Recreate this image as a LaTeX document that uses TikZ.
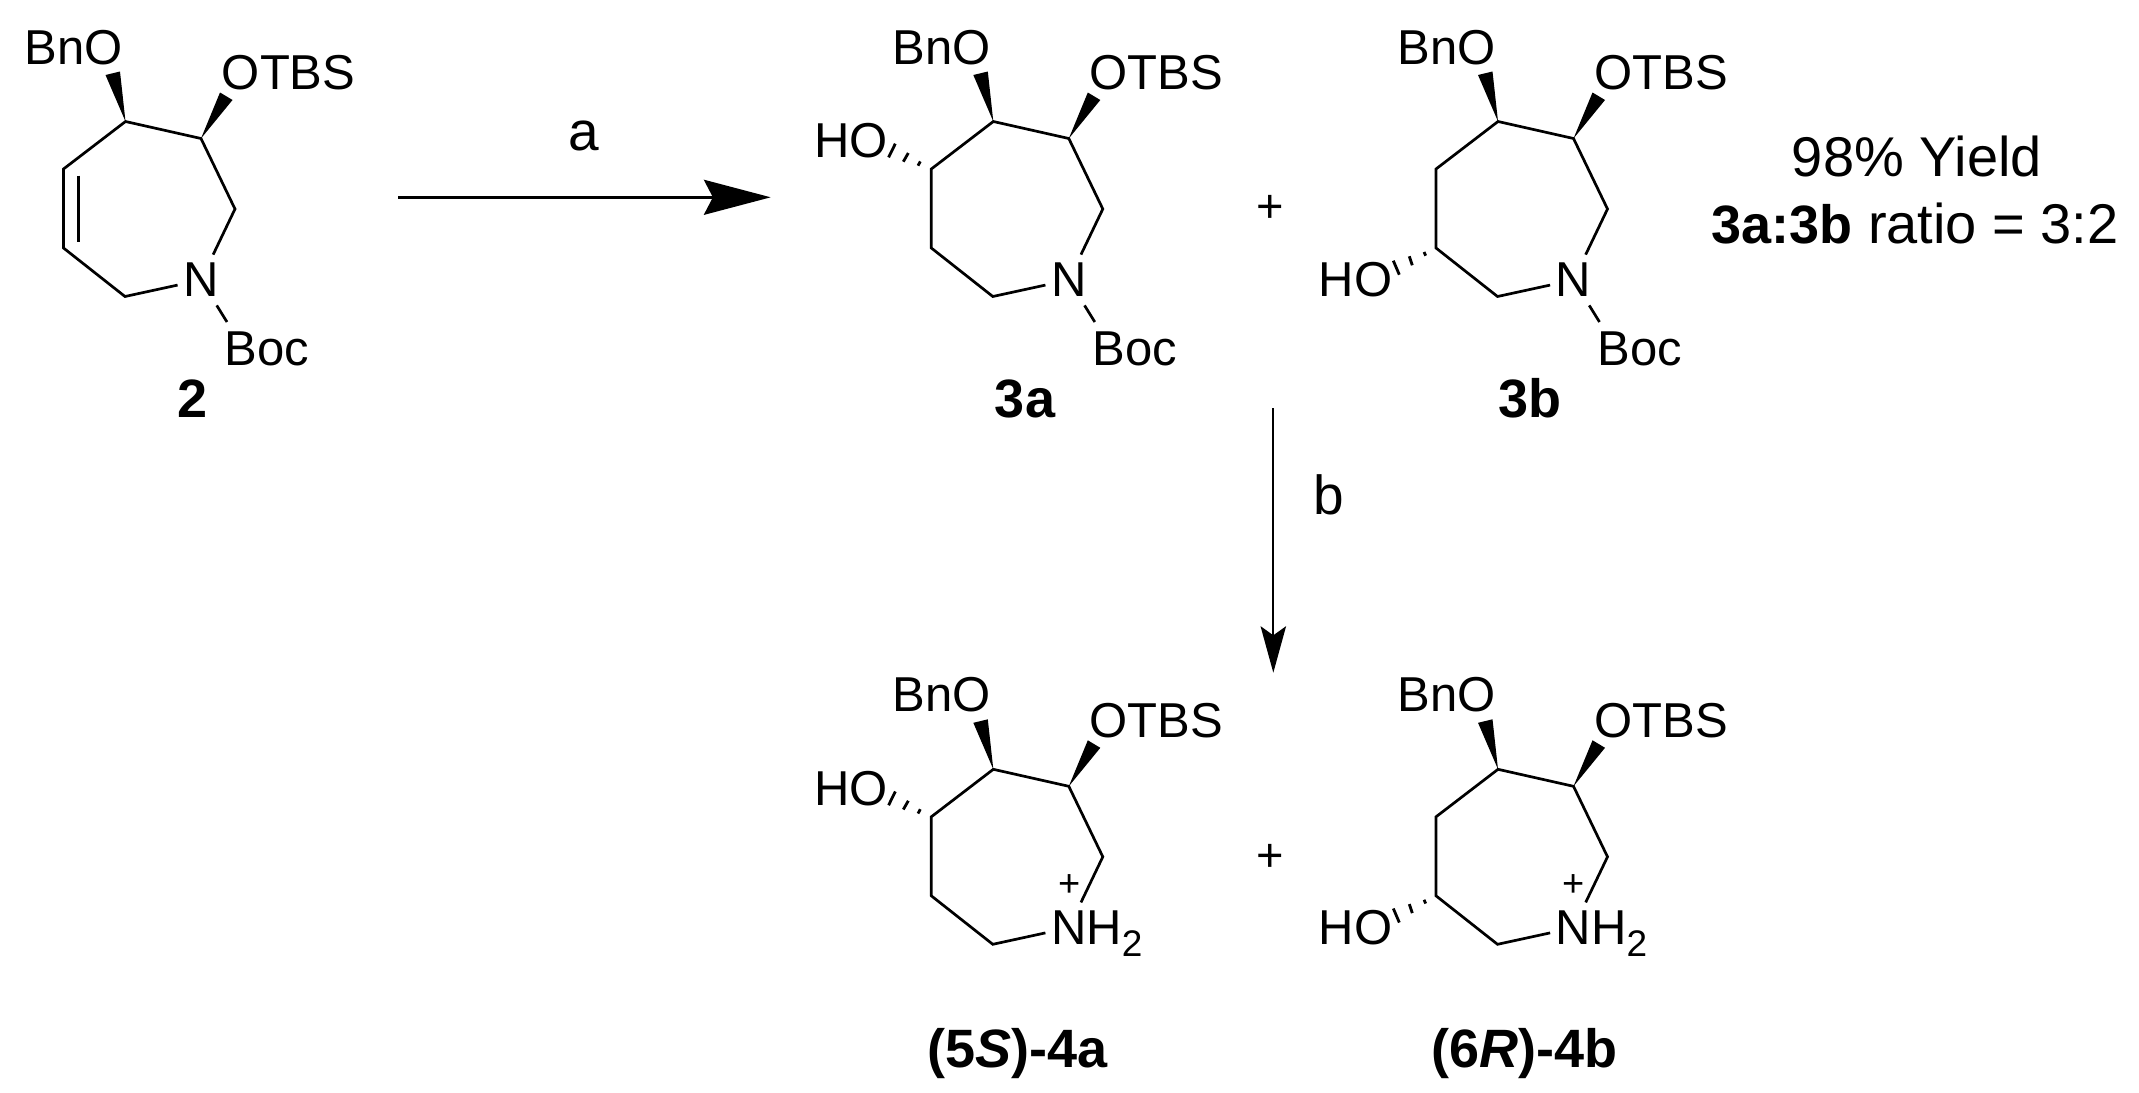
\documentclass[tikz,border=0pt]{standalone}
\usepackage{fontspec}
\setmainfont{Liberation Sans}
\usetikzlibrary{arrows.meta}
\newcommand{\fs}[1]{\fontsize{#1pt}{#1pt}\selectfont}
\tikzset{
  bond/.style={line width=1.35pt, line join=miter},
  hashb/.style={line width=1.4pt},
  wedge/.style={fill=black, draw=none},
  atom/.style={font=\fs{24.5}, inner sep=0pt, anchor=base west},
  atomN/.style={font=\fs{24.5}, inner sep=0pt, minimum width=23pt, minimum height=25pt},
  chg/.style={font=\fs{19}, inner sep=0pt},
  cmpd/.style={font=\fs{27}\bfseries, inner sep=0pt, anchor=base},
  plain/.style={font=\fs{27.5}, inner sep=0pt, anchor=base west},
  note/.style={font=\fs{28}, inner sep=0pt, anchor=base west},
  plussign/.style={font=\fs{23.5}, inner sep=0pt},
  rxnA/.style={line width=1.25pt, -{Stealth[length=33.4pt,width=17.5pt,inset=4.5pt]}},
  rxnB/.style={line width=1.05pt, -{Stealth[length=23.2pt,width=12.7pt,inset=4.5pt]}}
}
% common skeleton: ring atoms, wedges, BnO and OTBS
\newcommand{\skeleton}{%
  \coordinate (a) at (125.5,121.5);
  \coordinate (b) at (201,138.5);
  \coordinate (c) at (235,209);
  \coordinate (e) at (125,296.5);
  \coordinate (f) at (63.5,248);
  \coordinate (g) at (63.5,169);
  \coordinate (w1) at (105.5,75);
  \coordinate (w2) at (120,71.5);
  \coordinate (w3) at (220,92.5);
  \coordinate (w4) at (232.5,100);
  \node[atom] (BnO) at (24.5,64) {BnO};
  \node[atom] (OTBS) at (221.5,89.5) {OTBS};
  \fill[wedge] (a) -- (w1) -- (w2) -- cycle;
  \fill[wedge] (b) -- (w3) -- (w4) -- cycle;
}
\newcommand{\nboc}{%
  \node[atomN] (N) at (201,280) {N};
  \coordinate (bt) at (227,322);
  \node[atom] (Boc) at (224.5,365.5) {Boc};
  \draw[bond] (N) -- (e) -- (f) -- (g) -- (a) -- (b) -- (c) -- (N);
  \draw[bond] (N) -- (bt);
}
\newcommand{\nhtwo}{%
  \node[atomN] (N) at (201,280) {N\rlap{\smash{H\raisebox{-5.85pt}{\fs{18.5}2}}}};
  \node[chg] (plus) at (201.5,238) {+};
  \draw[bond] (N) -- (e) -- (f) -- (g) -- (a) -- (b) -- (c) -- (N);
}
\newcommand{\hoUp}{%
  \node[atom] (HO) at (-54,157.3) {HO};
  \draw[hashb] (g) +(-13.3,-3.3) -- +(-11,-7.6);
  \draw[hashb] (g) +(-28,-7.3) -- +(-23,-16);
  \draw[hashb] (g) +(-42.7,-11.6) -- +(-36,-25.3);
}
\newcommand{\hoDown}{%
  \node[atom] (HO) at (-54,296.7) {HO};
  \draw[hashb] (f) +(-12,4) -- +(-10.3,7.7);
  \draw[hashb] (f) +(-26.7,8.3) -- +(-23.7,17.3);
  \draw[hashb] (f) +(-42.7,12.7) -- +(-36.7,26.7);
}
\begin{document}
\begin{tikzpicture}[x=0.5pt,y=-0.5pt]
\useasboundingbox[fill=white] (0,0) rectangle (2139,1092);

% compound 2
\begin{scope}[name prefix=m2-]
  \skeleton
  \nboc
  \coordinate (d1) at (78.3,175.7);
  \coordinate (d2) at (78.3,241.7);
  \draw[bond] (d1) -- (d2);
\end{scope}
\node[cmpd] (L2) at (192.7,417.7) {2};

% compound 3a
\begin{scope}[shift={(867.8,0)},name prefix=m3a-]
  \skeleton
  \nboc
  \hoUp
\end{scope}
\node[cmpd] (L3a) at (1025,417.7) {3a};

% compound 3b
\begin{scope}[shift={(1372.5,0)},name prefix=m3b-]
  \skeleton
  \nboc
  \hoDown
\end{scope}
\node[cmpd] (L3b) at (1530,417.7) {3b};

% compound 4a
\begin{scope}[shift={(867.8,647.8)},name prefix=m4a-]
  \skeleton
  \nhtwo
  \hoUp
\end{scope}
\node[cmpd] (L4a) at (1017.5,1067.3) {(5\textit{S})-4a};

% compound 4b
\begin{scope}[shift={(1372.5,647.8)},name prefix=m4b-]
  \skeleton
  \nhtwo
  \hoDown
\end{scope}
\node[cmpd] (L4b) at (1524,1067.3) {(6\textit{R})-4b};

% plus signs
\node[plussign] (p1) at (1270,209) {+};
\node[plussign] (p2) at (1270,857.7) {+};

% arrows
\coordinate (A1) at (398.3,197.3);
\coordinate (A2) at (770.7,197.3);
\draw[rxnA] (A1) -- (A2);
\node[plain] (la) at (568.5,150) {a};
\coordinate (B1) at (1273.3,408.3);
\coordinate (B2) at (1273.3,672.7);
\draw[rxnB] (B1) -- (B2);
\node[plain] (lb) at (1313,514) {b};

% yield text
\node[note] (yield) at (1791.5,176.7) {98\% Yield};
\node[note] (ratio) at (1711,243) {{\fs{27}\bfseries 3a:3b} ratio = 3:2};
\end{tikzpicture}
\end{document}
